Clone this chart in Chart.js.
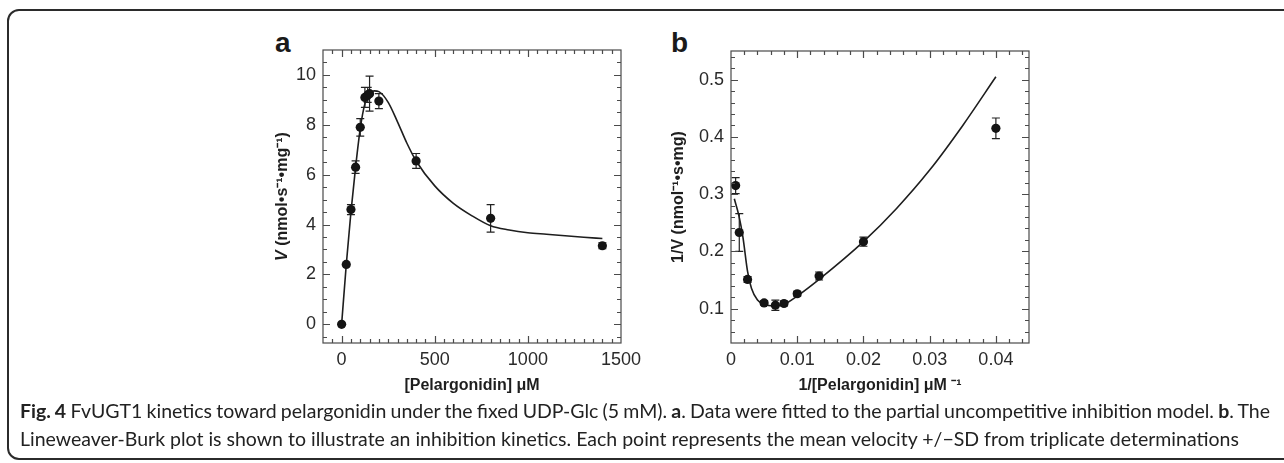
<!DOCTYPE html>
<html>
<head>
<meta charset="utf-8">
<title>FvUGT1 kinetics toward pelargonidin</title>
<script src="https://cdn.jsdelivr.net/npm/chart.js@4"></script>
<style>
html, body { margin: 0; padding: 0; background: #fff; overflow: hidden; }
body { width: 1284px; height: 463px; position: relative; font-family: "Liberation Sans", Arial, sans-serif; color: #222; }
.frame { position: absolute; left: 7px; top: 9px; width: 1320px; height: 451px; box-sizing: border-box; border: 2px solid #2b2b2b; border-radius: 12px; }
canvas { position: absolute; top: 0; }
#chartA { left: 200px; }
#chartB { left: 600px; }
.panel { position: absolute; top: 29px; font-weight: bold; font-size: 28px; line-height: 1; color: #1a1a1a; }
.caption { position: absolute; left: 20px; top: 397px; font-family: Lato, "Liberation Sans", sans-serif; font-size: 17px; line-height: 28px; white-space: nowrap; color: #222; }
</style>
</head>
<body>
<div class="frame"></div>
<div class="panel" style="left:275px">a</div>
<div class="panel" style="left:671px">b</div>
<canvas id="chartA" width="450" height="410"></canvas>
<canvas id="chartB" width="460" height="410"></canvas>
<div class="caption" id="cap">
  <div><span id="cap1"><b>Fig. 4</b> FvUGT1 kinetics toward pelargonidin under the fixed UDP-Glc (5 mM). <b>a</b>. Data were fitted to the partial uncompetitive inhibition model. <b>b</b>. The</span></div>
  <div><span id="cap2">Lineweaver-Burk plot is shown to illustrate an inhibition kinetics. Each point represents the mean velocity +/−SD from triplicate determinations</span></div>
</div>
<script>
// panel a: velocity vs [pelargonidin] (uM), mean +/- SD
const aConc = [0, 25, 50, 75, 100, 125, 140, 150, 200, 400, 800, 1400];
const aRate = [0, 2.4, 4.6, 6.3, 7.9, 9.1, 9.2, 9.25, 8.95, 6.55, 4.25, 3.15];
const aSD   = [0, 0, 0.2, 0.25, 0.35, 0.4, 0.3, 0.7, 0.3, 0.3, 0.55, 0.12];

// panel a fitted curve (partial uncompetitive inhibition)
const aFitX = [0, 25, 50, 75, 100, 125, 150, 175, 200, 250, 300, 350, 400, 500, 600, 700, 800, 900, 1000, 1100, 1200, 1300, 1400];
const aFitY = [0, 2.4, 4.5, 6.3, 7.85, 8.85, 9.25, 9.36, 9.33, 8.9, 8.12, 7.27, 6.55, 5.55, 4.85, 4.35, 3.95, 3.78, 3.67, 3.61, 3.55, 3.49, 3.44];

// panel b: Lineweaver-Burk, 1/V vs 1/[S]
const bInvConc = [0.0007, 0.00125, 0.0025, 0.005, 0.0067, 0.008, 0.01, 0.0133, 0.02, 0.04];
const bInvRate = [0.315, 0.233, 0.151, 0.110, 0.106, 0.109, 0.126, 0.157, 0.217, 0.415];
const bSD      = [0.014, 0.033, 0.005, 0.004, 0.009, 0.004, 0.004, 0.007, 0.008, 0.018];

const bFitX = [0.0005, 0.0012, 0.0018, 0.0025, 0.0031, 0.004, 0.005, 0.0064, 0.008, 0.01, 0.0134, 0.02, 0.025, 0.03, 0.035, 0.04];
const bFitY = [0.292, 0.262, 0.225, 0.165, 0.135, 0.115, 0.1075, 0.1045, 0.1075, 0.122, 0.152, 0.217, 0.275, 0.342, 0.42, 0.505];

// tick labels
const aXLabels = [0, 500, 1000, 1500];
const aYLabels = [0, 2, 4, 6, 8, 10];
const bXLabels = ['0', '0.01', '0.02', '0.03', '0.04'];
const bYLabels = ['0.1', '0.2', '0.3', '0.4', '0.5'];

Chart.defaults.font.family = '"Liberation Sans", Arial, sans-serif';
Chart.defaults.color = '#2a2a2a';

const pairs = (xs, ys) => xs.map((x, i) => ({ x, y: ys[i] }));
const near = (a, b) => Math.abs(a - b) < 1e-9;

// labels only on the listed major values, minor ticks stay blank
function labelFrom(list) {
  return v => {
    const hit = list.find(l => near(Number(l), v));
    return hit === undefined ? '' : String(hit);
  };
}

// frame box with inward ticks on all four sides
const innerTicks = {
  id: 'innerTicks',
  afterDraw(chart) {
    const { ctx, chartArea: a, scales: { x, y } } = chart;
    ctx.save();
    ctx.strokeStyle = '#4a4a4a';
    ctx.lineWidth = 1.2;
    ctx.strokeRect(a.left, a.top, a.right - a.left, a.bottom - a.top);
    ctx.beginPath();
    x.ticks.forEach(t => {
      const px = Math.round(x.getPixelForValue(t.value)) + 0.5;
      if (px <= a.left + 1 || px >= a.right - 1) return;
      const len = t.label !== '' ? 7 : 4;
      ctx.moveTo(px, a.bottom); ctx.lineTo(px, a.bottom - len);
      ctx.moveTo(px, a.top); ctx.lineTo(px, a.top + len);
    });
    y.ticks.forEach(t => {
      const py = Math.round(y.getPixelForValue(t.value)) + 0.5;
      if (py <= a.top + 1 || py >= a.bottom - 1) return;
      const len = t.label !== '' ? 7 : 4;
      ctx.moveTo(a.left, py); ctx.lineTo(a.left + len, py);
      ctx.moveTo(a.right, py); ctx.lineTo(a.right - len, py);
    });
    ctx.stroke();
    ctx.restore();
  }
};

function errorBars(sd) {
  return {
    id: 'errorBars',
    beforeDatasetsDraw(chart) {
      const { ctx, scales: { x, y } } = chart;
      const pts = chart.data.datasets[0].data;
      ctx.save();
      ctx.strokeStyle = '#222';
      ctx.lineWidth = 1.2;
      ctx.beginPath();
      pts.forEach((p, i) => {
        if (!sd[i]) return;
        const px = x.getPixelForValue(p.x);
        const top = y.getPixelForValue(p.y + sd[i]);
        const bot = y.getPixelForValue(p.y - sd[i]);
        ctx.moveTo(px, top); ctx.lineTo(px, bot);
        ctx.moveTo(px - 4, top); ctx.lineTo(px + 4, top);
        ctx.moveTo(px - 4, bot); ctx.lineTo(px + 4, bot);
      });
      ctx.stroke();
      ctx.restore();
    }
  };
}

// rotated y-axis title made of runs, so the V can be italic
function yTitle(parts, cx) {
  return {
    id: 'yTitle',
    afterDraw(chart) {
      const { ctx, chartArea: a } = chart;
      const fonts = parts.map(p => (p.italic ? 'italic ' : '') + 'bold 16px "Liberation Sans", Arial, sans-serif');
      ctx.save();
      ctx.translate(cx, (a.top + a.bottom) / 2);
      ctx.rotate(-Math.PI / 2);
      ctx.fillStyle = '#1e1e1e';
      ctx.textBaseline = 'middle';
      ctx.textAlign = 'left';
      const widths = parts.map((p, i) => { ctx.font = fonts[i]; return ctx.measureText(p.text).width; });
      let x = -widths.reduce((s, w) => s + w, 0) / 2;
      parts.forEach((p, i) => { ctx.font = fonts[i]; ctx.fillText(p.text, x, 0); x += widths[i]; });
      ctx.restore();
    }
  };
}

function kineticsChart(id, o) {
  return new Chart(document.getElementById(id), {
    type: 'scatter',
    data: {
      datasets: [
        { data: o.points, pointRadius: 4.6, pointHoverRadius: 4.6, pointBackgroundColor: '#141414', pointBorderWidth: 0, showLine: false },
        { data: o.fit, showLine: true, pointRadius: 0, borderColor: '#1e1e1e', borderWidth: 1.6, cubicInterpolationMode: 'monotone', fill: false }
      ]
    },
    options: {
      responsive: false,
      animation: false,
      events: [],
      layout: { padding: { left: 0, top: o.top, right: o.right, bottom: 0 } },
      plugins: { legend: { display: false }, tooltip: { enabled: false } },
      scales: {
        x: {
          type: 'linear', min: o.xMin, max: o.xMax,
          afterFit(s) { s.height = 67; },
          grid: { display: false, drawTicks: false },
          border: { display: false },
          ticks: { stepSize: o.xStep, autoSkip: false, maxRotation: 0, includeBounds: false, padding: 6, font: { size: 18 }, callback: labelFrom(o.xLabels) },
          title: { display: true, text: o.xTitle, font: { size: 16, weight: 'bold' }, color: '#1e1e1e', padding: { top: 0, bottom: 15 } }
        },
        y: {
          type: 'linear', min: o.yMin, max: o.yMax,
          afterFit(s) { s.width = o.yWidth; },
          grid: { display: false, drawTicks: false },
          border: { display: false },
          ticks: { stepSize: o.yStep, autoSkip: false, includeBounds: false, padding: 7, font: { size: 18 }, callback: labelFrom(o.yLabels) },
          title: { display: false }
        }
      }
    },
    plugins: [errorBars(o.sd), innerTicks, yTitle(o.yTitle, o.yTitleX)]
  });
}

kineticsChart('chartA', {
  points: pairs(aConc, aRate), fit: pairs(aFitX, aFitY), sd: aSD,
  xMin: -100, xMax: 1500, xStep: 50, xLabels: aXLabels,
  yMin: -0.75, yMax: 11, yStep: 0.5, yLabels: aYLabels,
  xTitle: '[Pelargonidin] μM',
  yTitle: [{ text: 'V', italic: true }, { text: ' (nmol•s⁻¹•mg⁻¹)' }], yTitleX: 83,
  top: 50, right: 29, yWidth: 123
});

kineticsChart('chartB', {
  points: pairs(bInvConc, bInvRate), fit: pairs(bFitX, bFitY), sd: bSD,
  xMin: 0, xMax: 0.045, xStep: 0.002, xLabels: bXLabels,
  yMin: 0.04, yMax: 0.55, yStep: 0.02, yLabels: bYLabels,
  xTitle: '1/[Pelargonidin] μM ⁻¹',
  yTitle: [{ text: '1/V (nmol⁻¹•s•mg)' }], yTitleX: 79,
  top: 51, right: 31, yWidth: 131
});

// fit the caption lines to the widths in the figure
const cap = document.getElementById('cap');
const cap1 = document.getElementById('cap1');
const cap2 = document.getElementById('cap2');
cap.style.fontSize = (17 * 1220 / cap2.getBoundingClientRect().width) + 'px';
const gaps = cap1.textContent.trim().split(/\s+/).length - 1;
cap1.style.wordSpacing = ((1250 - cap1.getBoundingClientRect().width) / gaps) + 'px';
</script>
</body>
</html>
